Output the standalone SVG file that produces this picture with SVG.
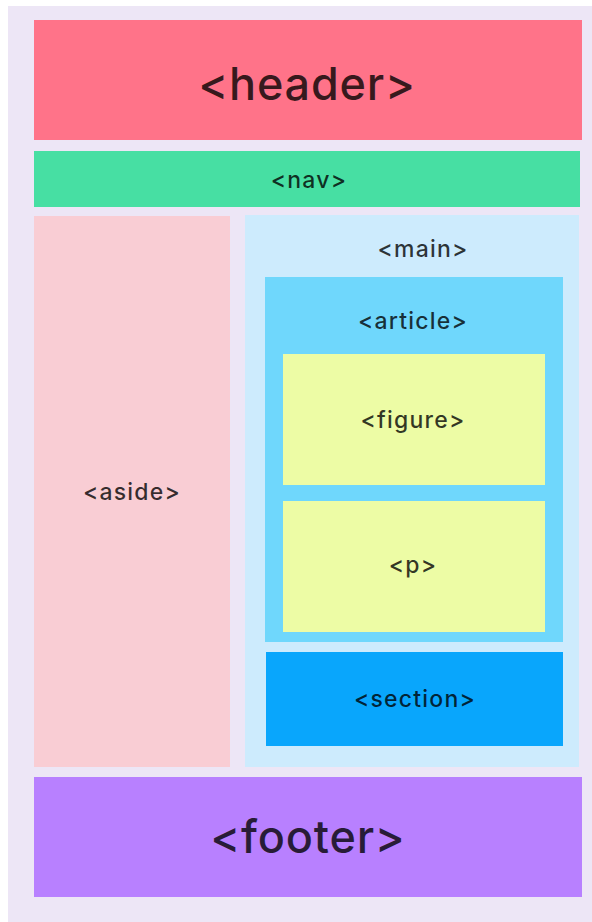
<svg xmlns="http://www.w3.org/2000/svg" width="592" height="922" viewBox="0 0 592 922">
<style>
text{font-family:Inter,"Noto Sans","Liberation Sans",sans-serif;fill:#000;fill-opacity:0.78;text-anchor:middle;font-weight:500}
.big{font-size:45px;letter-spacing:0.8px}
.sm{font-size:23px;letter-spacing:1.2px}
</style>
<rect x="0" y="0" width="592" height="922" fill="#ffffff"/>
<rect x="8" y="6" width="584" height="916" fill="#EDE6F6"/>
<g id="header"><rect x="34" y="20" width="548" height="120" fill="#FF7389"/><text class="big" x="307" y="100">&lt;header&gt;</text></g>
<g id="nav"><rect x="34" y="151" width="546" height="56" fill="#47DFA3"/><text class="sm" x="309" y="188">&lt;nav&gt;</text></g>
<g id="aside"><rect x="34" y="216" width="196" height="551" fill="#F9CDD4"/><text class="sm" x="132" y="500">&lt;aside&gt;</text></g>
<g id="main"><rect x="245" y="215" width="334" height="552" fill="#CDEBFD"/><text class="sm" x="423" y="257">&lt;main&gt;</text></g>
<g id="article"><rect x="265" y="277" width="298" height="365" fill="#6FD7FC"/><text class="sm" x="413" y="329">&lt;article&gt;</text></g>
<g id="figure"><rect x="283" y="354" width="262" height="131" fill="#EDFCA5"/><text class="sm" x="413" y="428">&lt;figure&gt;</text></g>
<g id="p"><rect x="283" y="501" width="262" height="131" fill="#EDFCA5"/><text class="sm" x="413" y="573">&lt;p&gt;</text></g>
<g id="section"><rect x="266" y="652" width="297" height="94" fill="#09A6FC"/><text class="sm" x="415" y="707">&lt;section&gt;</text></g>
<g id="footer"><rect x="34" y="777" width="548" height="120" fill="#B880FF"/><text class="big" x="308" y="853">&lt;footer&gt;</text></g>
<g id="connectors"></g>
</svg>
